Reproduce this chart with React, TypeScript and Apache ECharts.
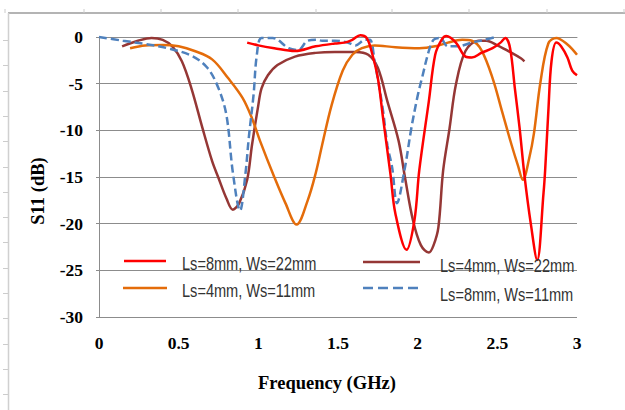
import React, { useEffect, useRef } from "react";
import * as echarts from "echarts";

// Frequency (GHz) and S11 (dB)
const redFreq = [0.93, 1.0, 1.1, 1.23, 1.36, 1.48, 1.54, 1.59, 1.64, 1.68, 1.71, 1.75, 1.78, 1.81, 1.83, 1.86, 1.93, 1.98, 2.01, 2.07, 2.11, 2.15, 2.18, 2.24, 2.3, 2.34, 2.4, 2.47, 2.52, 2.55, 2.58, 2.61, 2.64, 2.67, 2.71, 2.75, 2.79, 2.8, 2.82, 2.84, 2.87, 2.9, 2.94, 2.97, 3.0];
const redS11 = [-0.6, -0.9, -1.2, -1.5, -1.0, -0.7, -0.6, -0.3, 0.2, -0.1, -1.5, -4.4, -8.3, -12.2, -14.8, -18.9, -22.8, -19.6, -14.3, -6.9, -1.9, -0.3, 0.1, -0.6, -2.1, -2.2, -1.7, -1.2, -0.6, -0.1, -1.2, -5.5, -9.8, -14.8, -20.0, -23.9, -16.7, -14.3, -8.0, -2.6, -0.6, -1.0, -2.2, -3.6, -4.1];

const brownFreq = [0.145, 0.245, 0.33, 0.4, 0.46, 0.52, 0.58, 0.65, 0.71, 0.75, 0.8, 0.84, 0.88, 0.93, 0.96, 1.0, 1.02, 1.06, 1.12, 1.23, 1.36, 1.48, 1.61, 1.69, 1.75, 1.81, 1.88, 1.92, 1.97, 2.02, 2.07, 2.1, 2.13, 2.16, 2.2, 2.24, 2.3, 2.38, 2.43, 2.5, 2.59, 2.65, 2.67];
const brownS11 = [-1.0, -0.4, -0.1, -0.3, -1.0, -2.6, -5.5, -9.8, -13.3, -15.1, -17.3, -18.5, -17.8, -15.3, -11.6, -7.3, -5.5, -4.1, -3.0, -2.1, -1.7, -1.6, -1.6, -1.9, -3.3, -6.9, -11.1, -15.0, -19.6, -22.3, -23.1, -22.3, -20.4, -14.3, -9.8, -5.1, -1.5, -0.4, -0.4, -0.9, -1.7, -2.3, -2.6];

const orangeFreq = [0.195, 0.29, 0.4, 0.5, 0.6, 0.71, 0.81, 0.9, 0.96, 1.01, 1.1, 1.17, 1.24, 1.31, 1.36, 1.4, 1.46, 1.53, 1.59, 1.65, 1.73, 1.86, 2.01, 2.11, 2.19, 2.28, 2.34, 2.4, 2.47, 2.53, 2.59, 2.63, 2.66, 2.7, 2.73, 2.77, 2.82, 2.87, 2.94, 3.0];
const orangeS11 = [-1.2, -0.9, -0.85, -1.0, -1.5, -2.4, -4.4, -6.5, -8.7, -11.1, -15.0, -17.8, -20.1, -17.5, -14.6, -11.6, -7.3, -3.6, -1.9, -1.2, -0.9, -1.1, -1.2, -1.0, -0.6, -0.3, -0.4, -1.4, -4.4, -8.0, -11.6, -13.8, -15.3, -13.0, -10.3, -4.9, -0.7, -0.1, -0.8, -1.9];

const blueFreq = [0, 0.15, 0.29, 0.43, 0.58, 0.68, 0.75, 0.8, 0.84, 0.885, 0.92, 0.94, 0.97, 0.99, 1.02, 1.09, 1.19, 1.25, 1.31, 1.37, 1.4, 1.48, 1.56, 1.61, 1.67, 1.7, 1.73, 1.78, 1.81, 1.84, 1.87, 1.92, 1.96, 2.0, 2.03, 2.07, 2.1, 2.14, 2.19, 2.25, 2.34, 2.42, 2.49];
const blueS11 = [0, -0.4, -0.75, -1.2, -2.0, -3.3, -5.5, -8.4, -14.5, -18.6, -14.5, -10.8, -6.2, -2.0, -0.1, -0.1, -1.2, -1.4, -0.4, -0.3, -0.4, -0.4, -0.6, -0.9, -0.3, -0.3, -2.6, -7.6, -11.6, -14.0, -17.8, -14.0, -9.8, -6.3, -4.2, -1.5, -0.3, -0.1, -1.0, -1.0, -0.6, -0.3, 0];

const seriesNames = ["Ls=8mm, Ws=22mm", "Ls=4mm, Ws=22mm", "Ls=4mm, Ws=11mm", "Ls=8mm, Ws=11mm"];
const seriesColors = ["#FF0000", "#953735", "#E46C0A", "#4F81BD"];

const xTicks = [0, 0.5, 1, 1.5, 2, 2.5, 3];
const yTicks = [0, -5, -10, -15, -20, -25, -30];

const zip = (a: number[], b: number[]) => a.map((v, i) => [v, b[i]]);

export default function App() {
  const ref = useRef<HTMLDivElement>(null);
  useEffect(() => {
    document.body.style.margin = "0";
    const chart = echarts.init(ref.current!, undefined, { renderer: "svg" });
    const serif = "'Times New Roman', 'Liberation Serif', serif";
    const sans = "'Liberation Sans', Arial, sans-serif";

    const frame: any[] = [
      { type: "line", shape: { x1: 8, y1: 13, x2: 625, y2: 13 }, style: { stroke: "#b4b4b4", lineWidth: 2 } },
      { type: "line", shape: { x1: 8.5, y1: 13, x2: 8.5, y2: 410 }, style: { stroke: "#d0d0d0", lineWidth: 1.5 } },
    ];
    [5, 84, 161, 238, 316, 392, 469, 547, 624].forEach((x) =>
      frame.push({ type: "line", shape: { x1: x, y1: 9, x2: x, y2: 13 }, style: { stroke: "#cccccc", lineWidth: 1 } })
    );
    for (let k = 0; k < 15; k++) {
      const y = Math.round(40 + 25.3 * k) + 0.5;
      frame.push({ type: "line", shape: { x1: 3, y1: y, x2: 8, y2: y }, style: { stroke: "#cccccc", lineWidth: 1 } });
    }

    const legendItems = [
      { lx1: 124, lx2: 166, ly: 261, tx: 182, ty: 263, i: 0 },
      { lx1: 363, lx2: 420, ly: 262, tx: 440, ty: 265, i: 1 },
      { lx1: 123, lx2: 167, ly: 288, tx: 182, ty: 290, i: 2 },
      { lx1: 363, lx2: 420, ly: 288, tx: 440, ty: 294, i: 3 },
    ];
    const legend: any[] = [];
    legendItems.forEach((it) => {
      legend.push({
        type: "line",
        z: 100,
        shape: { x1: it.lx1, y1: it.ly, x2: it.lx2, y2: it.ly },
        style: { stroke: seriesColors[it.i], lineWidth: 2.5, lineDash: it.i === 3 ? [10, 5] : null },
      });
      legend.push({
        type: "text",
        z: 100,
        x: it.tx,
        y: it.ty,
        scaleX: 0.81,
        style: { text: seriesNames[it.i], fontFamily: sans, fontSize: 18, fill: "#333333", align: "left", verticalAlign: "middle" },
      });
    });

    const titles: any[] = [
      {
        type: "text",
        x: 38,
        y: 191,
        rotation: Math.PI / 2,
        style: { text: "S11 (dB)", fontFamily: serif, fontWeight: "bold", fontSize: 18.5, fill: "#000", align: "center", verticalAlign: "middle" },
      },
      {
        type: "text",
        x: 327,
        y: 383,
        style: { text: "Frequency (GHz)", fontFamily: serif, fontWeight: "bold", fontSize: 18.5, fill: "#000", align: "center", verticalAlign: "middle" },
      },
    ];

    const datasets = [zip(redFreq, redS11), zip(brownFreq, brownS11), zip(orangeFreq, orangeS11), zip(blueFreq, blueS11)];

    chart.setOption({
      animation: false,
      backgroundColor: "#ffffff",
      grid: { left: 99, right: 48, top: 37, bottom: 93 },
      xAxis: {
        type: "value",
        min: xTicks[0],
        max: xTicks[xTicks.length - 1],
        interval: 0.5,
        axisLine: { show: true, lineStyle: { color: "#8c8c8c", width: 1 } },
        axisTick: { show: false },
        splitLine: { show: false },
        axisLabel: { margin: 17, fontFamily: serif, fontWeight: "bold", fontSize: 17.5, color: "#000" },
      },
      yAxis: {
        type: "value",
        min: yTicks[yTicks.length - 1],
        max: yTicks[0],
        interval: 5,
        axisLine: { show: true, lineStyle: { color: "#8c8c8c", width: 1 } },
        axisTick: { show: true, length: 3, lineStyle: { color: "#8c8c8c" } },
        splitLine: { show: true, lineStyle: { color: "#8c8c8c", width: 1 } },
        axisLabel: { margin: 16, fontFamily: serif, fontWeight: "bold", fontSize: 17.5, color: "#000" },
      },
      series: datasets.map((d, i) => ({
        name: seriesNames[i],
        type: "line",
        data: d,
        smooth: 0.35,
        clip: false,
        showSymbol: false,
        symbol: "none",
        z: i === 0 ? 5 : 3,
        lineStyle: { color: seriesColors[i], width: 2.5, type: i === 3 ? [8, 4] : "solid" },
      })),
      graphic: [...frame, ...legend, ...titles],
    });
    return () => chart.dispose();
  }, []);
  return <div ref={ref} style={{ width: 625, height: 410 }} />;
}
